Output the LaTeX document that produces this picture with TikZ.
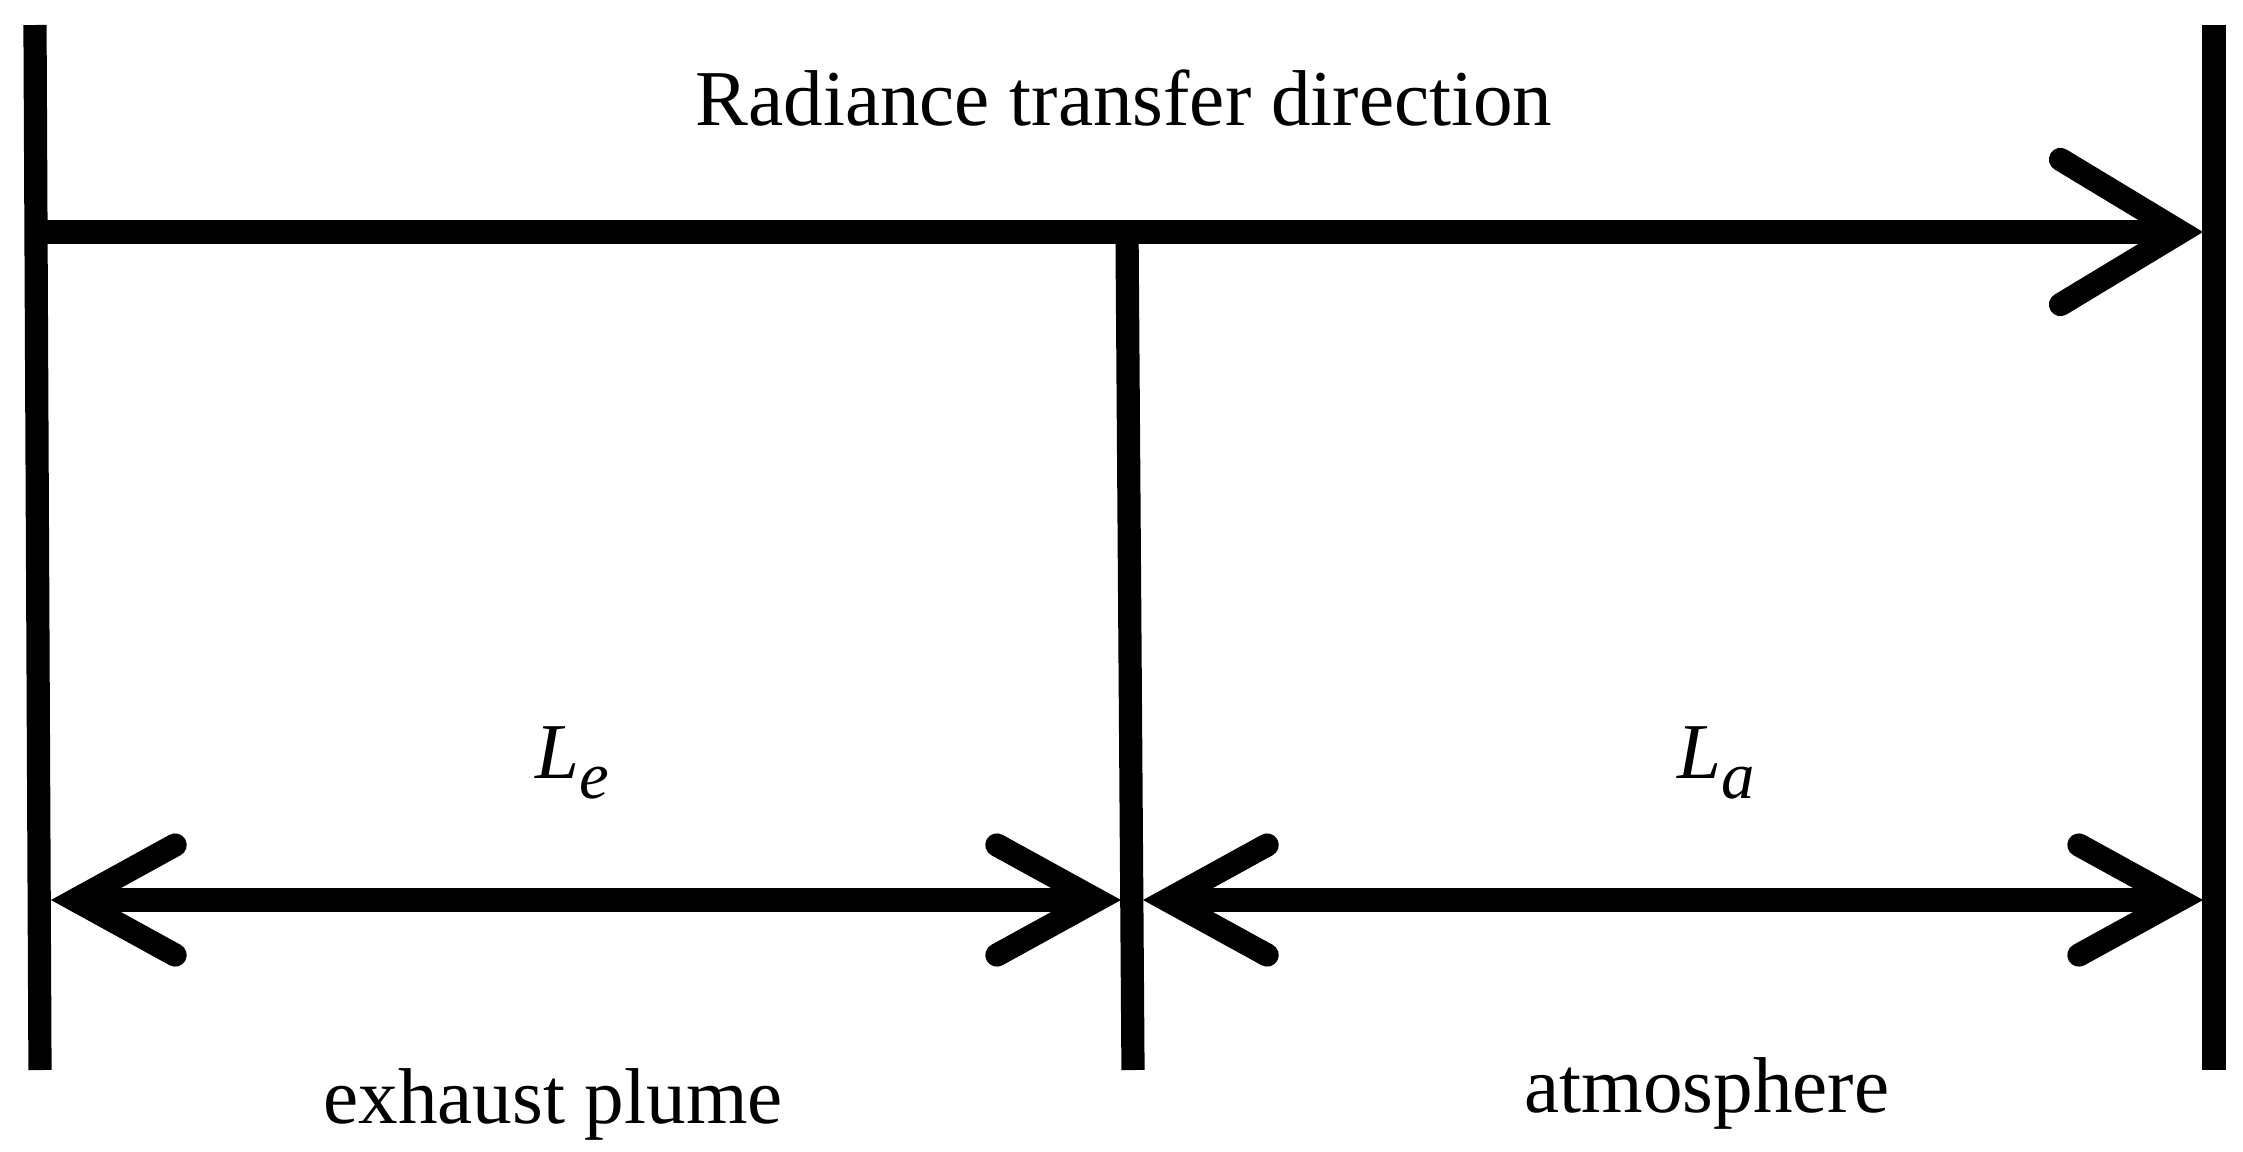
\documentclass[tikz,border=0pt]{standalone}
\usepackage{fontspec}
\setmainfont{Liberation Serif}
\usepackage{tikz}
\usetikzlibrary{arrows.meta, positioning}

\newcommand{\lensub}[1]{\raisebox{-0.26em}{\fontsize{19}{22}\selectfont #1}}

\tikzset{
    bar/.style={line width=6.6pt},
    flowarrow/.style={line width=6.6pt, -{Straight Barb[length=1.2cm, width=1.45cm, line cap=round]}},
    dimarrow/.style={line width=6.6pt, {Straight Barb[length=1.0cm, width=1.1cm, line cap=round]}-{Straight Barb[length=1.0cm, width=1.1cm, line cap=round]}},
    lbl/.style={inner sep=0pt, anchor=base, font=\fontsize{22.5}{27}\selectfont}
}

\begin{document}
\begin{tikzpicture}[x=0.01cm, y=-0.01cm]
    \useasboundingbox (0,0) rectangle (2243,1151);

    % boundaries
    \coordinate (lt) at (35,25);
    \coordinate (lb) at (40,1070);
    \coordinate (mt) at (1127,232);
    \coordinate (mb) at (1133,1070);
    \coordinate (rt) at (2214,25);
    \coordinate (rb) at (2214,1070);
    \draw[bar] (lt) -- (lb);
    \draw[bar] (mt) -- (mb);
    \draw[bar] (rt) -- (rb);

    % radiance direction
    \coordinate (flowL) at (35,232);
    \coordinate (flowR) at (2203,232);
    \draw[flowarrow] (flowL) -- (flowR);
    \node[lbl] (title) at (1124,125) {Radiance transfer direction};

    % path lengths
    \coordinate (plumeL) at (51,900);
    \coordinate (plumeR) at (1121,900);
    \coordinate (atmoL) at (1143,900);
    \coordinate (atmoR) at (2203,900);
    \draw[dimarrow] (plumeL) -- (plumeR);
    \draw[dimarrow] (atmoL) -- (atmoR);
    \node[lbl] (Le) at (572,778) {\itshape L\lensub{e}};
    \node[lbl] (La) at (1716,778) {\itshape L\lensub{a}};

    \node[lbl] (plume) at (553,1123) {exhaust plume};
    \node[lbl] (atmo) at (1707,1112) {atmosphere};
\end{tikzpicture}
\end{document}
